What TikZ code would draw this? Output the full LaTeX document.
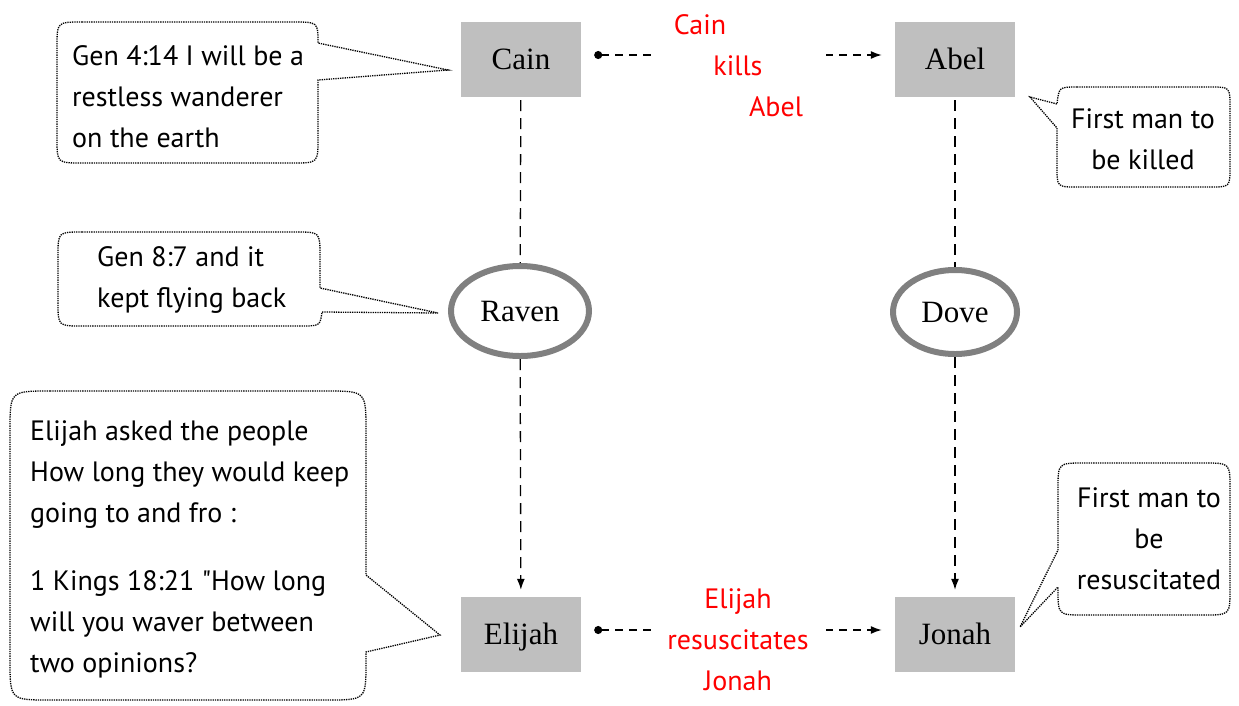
\documentclass[tikz,border=0pt]{standalone}
\usepackage{fontspec}
\setmainfont{Liberation Serif}
\newfontfamily\sansf{PT Sans}
\usetikzlibrary{arrows.meta,shapes.geometric}
\definecolor{boxgray}{HTML}{BFBFBF}
\definecolor{ringgray}{HTML}{808080}
\definecolor{labred}{HTML}{FF0000}
\begin{document}
\begin{tikzpicture}[x=1pt,y=-1pt,
  person/.style={fill=boxgray, minimum width=120pt, minimum height=75pt, inner sep=0pt, text height=20.5pt, text depth=0pt, font=\fontsize{31}{31}\selectfont},
  bird/.style={ellipse, draw=ringgray, line width=6pt, minimum width=138pt, minimum height=90pt, inner sep=0pt, font=\fontsize{31}{31}\selectfont},
  ctext/.style={inner sep=0pt, font=\sansf\fontsize{28}{41}\selectfont},
  rlab/.style={fill=white, inner sep=0pt, text=labred, align=center, minimum width=175pt, font=\sansf\fontsize{28}{41}\selectfont},
  hlink/.style={line width=1.5pt, dash pattern=on 8pt off 6pt, {Circle[length=8pt,width=8pt]}-{Latex[length=11pt,width=8pt]}, shorten <=13pt, shorten >=13pt},
  vlink/.style={line width=1.3pt, dash pattern=on 11pt off 7pt},
  varrow/.style={vlink, -{Latex[length=11pt,width=8pt]}, shorten >=7pt},
  callout/.style={line width=1.3pt, dash pattern=on 1.3pt off 1pt}
]
\useasboundingbox (0,0) rectangle (1239,705);

% people
\node[person] (cain) at (521,59.5) {Cain};
\node[person] (abel) at (955,59.5) {Abel};
\node[person] (elijah) at (521,634.5) {Elijah};
\node[person] (jonah) at (955,634.5) {Jonah};

% birds
\node[bird] (raven) at (520,311) {Raven};
\node[bird, minimum width=124pt, minimum height=84pt] (dove) at (955,312) {Dove};

% vertical links
\draw[vlink, shorten <=3pt] (cain) -- (raven);
\draw[vlink, shorten <=3pt] (abel) -- (dove);
\draw[varrow] (raven) -- (elijah);
\draw[varrow] (dove) -- (jonah);

% horizontal links
\draw[hlink] ([yshift=4.5pt]cain.east) -- node[rlab, yshift=-11pt] (kills) {Cain\hspace*{76pt}\\kills\\\hspace*{76pt}Abel} ([yshift=4.5pt]abel.west);
\draw[hlink] ([yshift=4.5pt]elijah.east) -- node[rlab, yshift=-10pt] (resus) {Elijah\\resuscitates\\Jonah} ([yshift=4.5pt]jonah.west);

% callout 1
\draw[callout] (82,22) -- (293,22) .. controls (318,22) .. (318,43) -- (448,70) -- (318,80) -- (318,138) .. controls (318,163) .. (293,163) -- (82,163) .. controls (57,163) .. (57,138) -- (57,47) .. controls (57,22) .. (82,22) -- cycle;
\node[ctext, anchor=north west, align=left] (c1) at (72,45) {Gen 4:14 I will be a\\restless wanderer\\on the earth};

% callout 2
\draw[callout] (1077,87) -- (1210,87) .. controls (1230,87) .. (1230,107) -- (1230,167) .. controls (1230,187) .. (1210,187) -- (1077,187) .. controls (1057,187) .. (1057,167) -- (1057,128) -- (1030,97) -- (1057,104) .. controls (1059,87) .. (1077,87) -- cycle;
\node[ctext, align=center] (c2) at (1143,139.5) {First man to\\be killed};

% callout 3
\draw[callout] (82,232) -- (296,232) .. controls (320,232) .. (320,256) -- (320,288) -- (438,313) -- (322,312) .. controls (320,326) .. (300,326) -- (82,326) .. controls (58,326) .. (58,302) -- (58,256) .. controls (58,232) .. (82,232) -- cycle;
\node[ctext, anchor=north west, align=left] (c3) at (97,246) {Gen 8:7 and it\\kept flying back};

% callout 4
\draw[callout] (50,391) -- (326,391) .. controls (366,391) .. (366,431) -- (366,575) -- (440,635) -- (366,652) -- (366,662) .. controls (366,700) .. (326,700) -- (50,700) .. controls (10,700) .. (10,660) -- (10,431) .. controls (10,391) .. (50,391) -- cycle;
\node[ctext, anchor=north west, align=left] (c4) at (30,420) {Elijah asked the people\\How long they would keep\\going to and fro :\\[27pt]1 Kings 18:21 "How long\\will you waver between\\two opinions?};

% callout 5
\draw[callout] (1084,463) -- (1204,463) .. controls (1230,463) .. (1230,489) -- (1230,589) .. controls (1230,615) .. (1204,615) -- (1084,615) .. controls (1058,615) .. (1058,589) -- (1058,587) -- (1020,627) -- (1058,550) -- (1058,489) .. controls (1058,463) .. (1084,463) -- cycle;
\node[ctext, align=center] (c5) at (1149,539) {First man to\\be\\resuscitated};
\end{tikzpicture}
\end{document}
